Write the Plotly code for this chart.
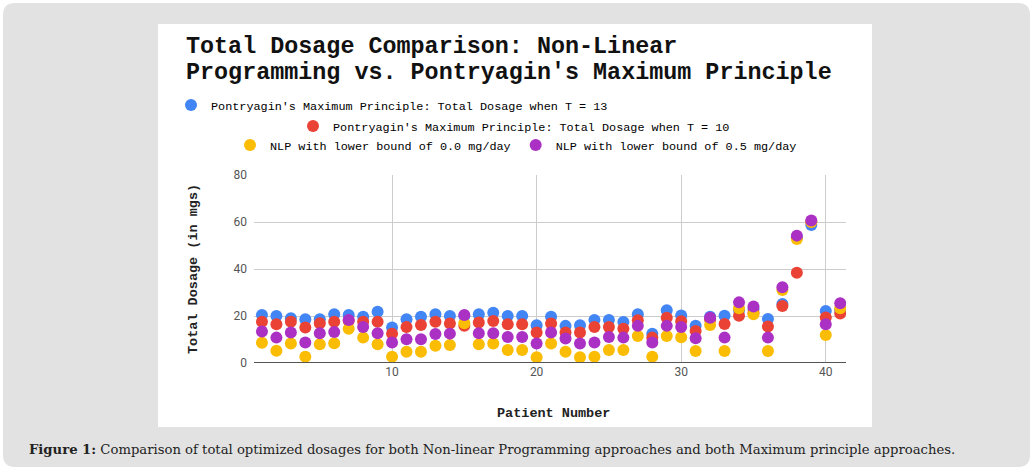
import plotly.graph_objects as go

# -------------------------------
# data
# -------------------------------
patients = list(range(1, 42))

pmp_t13 = [20.4, 20.0, 19.0, 18.6, 18.6, 20.7, 20.4, 19.7, 21.8, 15.1,
           18.6, 19.7, 20.7, 20.0, 20.0, 20.7, 21.4, 20.0, 20.0, 16.1,
           19.7, 15.8, 16.1, 18.3, 18.3, 17.5, 20.7, 12.5, 22.4, 20.2,
           15.9, 19.7, 20.1, 22.5, 23.0, 18.7, 25.1, 53.5, 58.7, 22.1, 22.5]
pmp_t10 = [17.6, 16.5, 17.6, 15.1, 16.9, 17.6, 18.0, 17.6, 17.6, 12.5,
           15.3, 16.2, 17.6, 16.8, 15.8, 17.2, 17.9, 16.5, 16.5, 13.0,
           16.8, 13.0, 13.0, 15.3, 15.3, 14.6, 18.2, 10.8, 19.3, 17.8,
           13.6, 18.5, 16.6, 20.1, 21.4, 15.5, 24.3, 38.4, 60.1, 19.4, 21.1]
nlp_00 = [8.6, 5.2, 8.3, 2.7, 8.0, 8.4, 14.6, 10.8, 8.0, 2.7,
          4.8, 4.8, 7.3, 7.7, 16.9, 8.0, 8.3, 5.5, 5.5, 2.4,
          8.3, 4.8, 2.4, 2.7, 5.5, 5.5, 11.5, 2.7, 11.5, 11.0,
          5.1, 16.2, 5.1, 23.3, 20.7, 5.1, 31.1, 52.8, 60.0, 11.9, 23.3]
nlp_05 = [13.4, 10.8, 13.0, 8.7, 12.7, 13.2, 18.3, 15.3, 12.7, 8.7,
          10.1, 10.1, 12.3, 12.5, 20.4, 12.7, 12.7, 11.1, 11.1, 8.3,
          13.0, 10.4, 8.3, 8.7, 11.1, 10.8, 15.8, 8.7, 15.8, 15.3,
          10.5, 19.3, 10.8, 25.8, 24.0, 10.8, 32.2, 54.2, 60.6, 16.5, 25.4]

x_ticks = [10, 20, 30, 40]
y_ticks = [0, 20, 40, 60, 80]

# -------------------------------
# geometry helpers (pixels -> paper)
# -------------------------------
W, H = 1034, 473
PL, PR, PT, PB = 254, 846, 175, 363


def px(x):
    return (x - PL) / (PR - PL)


def py(y):
    return (PB - y) / (PB - PT)


MONO = "Liberation Mono, Courier New, monospace"

fig = go.Figure()

series = [
    ("Pontryagin's Maximum Principle: Total Dosage when T = 13", pmp_t13, "#4285F4", "legend"),
    ("Pontryagin's Maximum Principle: Total Dosage when T = 10", pmp_t10, "#EA4335", "legend2"),
    ("NLP with lower bound of 0.0 mg/day", nlp_00, "#FBBC04", "legend3"),
    ("NLP with lower bound of 0.5 mg/day", nlp_05, "#AB30C4", "legend3"),
]
for name, vals, color, leg in series:
    fig.add_trace(go.Scatter(x=patients, y=vals, mode="markers", name=name,
                             marker=dict(color=color, size=12), legend=leg,
                             hoverinfo="x+y"))

leg_font = dict(family=MONO, size=11.8, color="#000000")
fig.update_layout(
    width=W, height=H,
    margin=dict(l=PL, r=W - PR, t=PT, b=H - PB),
    paper_bgcolor="white",
    plot_bgcolor="white",
    showlegend=True,
    legend=dict(x=px(171), y=py(105), xanchor="left", yanchor="middle",
                orientation="h", font=leg_font, bgcolor="rgba(0,0,0,0)"),
    legend2=dict(x=px(293), y=py(126), xanchor="left", yanchor="middle",
                 orientation="h", font=leg_font, bgcolor="rgba(0,0,0,0)"),
    legend3=dict(x=px(230), y=py(145), xanchor="left", yanchor="middle",
                 orientation="h", font=leg_font, bgcolor="rgba(0,0,0,0)"),
    xaxis=dict(range=[0.45, 41.4], tickvals=x_ticks, showgrid=True,
               gridcolor="#cccccc", zeroline=False, showline=False,
               tickfont=dict(family="Roboto", size=12, color="#555555")),
    yaxis=dict(range=[0, 80], tickvals=y_ticks, showgrid=True,
               gridcolor="#cccccc", zeroline=False, showline=False,
               ticklabelstandoff=6,
               tickfont=dict(family="Roboto", size=12, color="#555555")),
)

# baseline at 0
fig.add_shape(type="line", xref="paper", yref="y", x0=0, x1=1, y0=0, y1=0,
              line=dict(color="#555555", width=2))

# grey page with rounded corners and white chart panel
r = 12
gx0, gy0, gx1, gy1 = 3, 3, 1030, 467
path = (f"M {px(gx0 + r)} {py(gy0)} L {px(gx1 - r)} {py(gy0)} "
        f"Q {px(gx1)} {py(gy0)} {px(gx1)} {py(gy0 + r)} "
        f"L {px(gx1)} {py(gy1 - r)} Q {px(gx1)} {py(gy1)} {px(gx1 - r)} {py(gy1)} "
        f"L {px(gx0 + r)} {py(gy1)} Q {px(gx0)} {py(gy1)} {px(gx0)} {py(gy1 - r)} "
        f"L {px(gx0)} {py(gy0 + r)} Q {px(gx0)} {py(gy0)} {px(gx0 + r)} {py(gy0)} Z")
fig.add_shape(type="path", xref="paper", yref="paper", path=path,
              fillcolor="#e2e2e2", line=dict(width=0), layer="below")
fig.add_shape(type="rect", xref="paper", yref="paper",
              x0=px(158), x1=px(872), y0=py(427), y1=py(24),
              fillcolor="white", line=dict(width=0), layer="below")

# title
for txt, yy in [("Total Dosage Comparison: Non-Linear", 47),
                ("Programming vs. Pontryagin's Maximum Principle", 73)]:
    fig.add_annotation(text=f"<b>{txt}</b>", xref="paper", yref="paper",
                       x=px(184), y=py(yy), xanchor="left", yanchor="middle",
                       showarrow=False, font=dict(family=MONO, size=23.4, color="#111111"))

# axis titles
fig.add_annotation(text="<b>Total Dosage (in mgs)</b>", xref="paper", yref="paper",
                   x=px(193), y=py(269), textangle=-90, showarrow=False,
                   xanchor="center", yanchor="middle",
                   font=dict(family=MONO, size=13.5, color="#222222"))
fig.add_annotation(text="<b>Patient Number</b>", xref="paper", yref="paper",
                   x=px(553), y=py(413), showarrow=False,
                   xanchor="center", yanchor="middle",
                   font=dict(family=MONO, size=13.5, color="#222222"))

# caption
fig.add_annotation(text="<b>Figure 1:</b> Comparison of total optimized dosages for both "
                        "Non-linear Programming approaches and both Maximum principle approaches.",
                   xref="paper", yref="paper", x=px(27), y=py(449),
                   xanchor="left", yanchor="middle", showarrow=False,
                   font=dict(family="DejaVu Serif", size=13.2, color="#222222"))

# drop the default body margin so the figure sits at the window's corner
fig.write_html("out.html", config={"displayModeBar": False},
               post_script="document.body.style.margin = '0';")
